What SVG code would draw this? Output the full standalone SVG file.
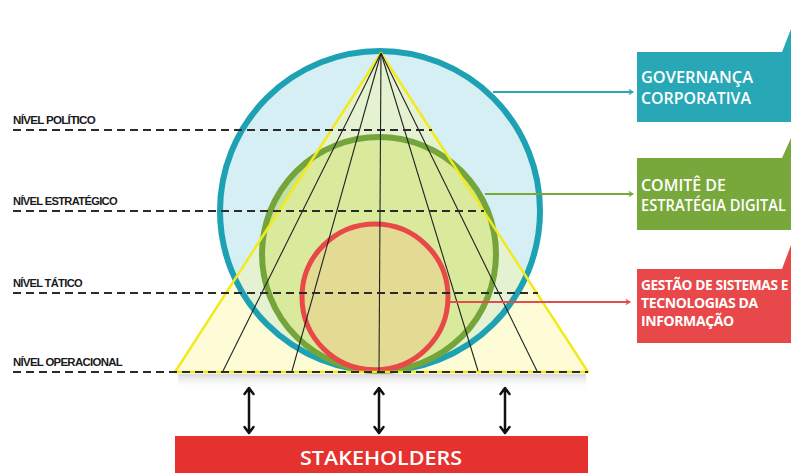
<svg xmlns="http://www.w3.org/2000/svg" width="791" height="473" viewBox="0 0 791 473">
<defs>
<style>
.lvl{font-family:"Liberation Sans",Arial,sans-serif;font-weight:bold;font-size:10px;fill:#1a1a1a;letter-spacing:-0.6px}
.dash{stroke:#2b2b2b;stroke-width:2;stroke-dasharray:8 5;fill:none}
.fan{stroke:#222;stroke-width:1.1;fill:none}
.bt{font-family:"Open Sans","Liberation Sans",sans-serif;font-weight:600;fill:#fff}
.rt{font-family:"Open Sans","Liberation Sans",sans-serif;font-weight:700;fill:#fff;font-size:14px;letter-spacing:-0.4px}
.dbl{stroke:#111;stroke-width:2.5;fill:none;stroke-linecap:round;stroke-linejoin:round}
</style>
<marker id="ah" viewBox="0 0 10 10" refX="8" refY="5" markerWidth="6" markerHeight="6" orient="auto" markerUnits="userSpaceOnUse">
<path d="M1,1 L8,5 L1,9" fill="none" stroke="context-stroke" stroke-width="2"/>
</marker>
<linearGradient id="sh" x1="0" y1="0" x2="0" y2="1">
<stop offset="0" stop-color="#cfcfcf" stop-opacity="0.8"/>
<stop offset="1" stop-color="#ffffff" stop-opacity="0"/>
</linearGradient>
</defs>
<rect width="791" height="473" fill="#ffffff"/>
<rect x="178" y="374" width="408" height="16" fill="url(#sh)"/>

<g id="diagram">
<g id="circle-governanca">
<circle cx="380" cy="211" r="160" fill="#d6eff5"/>
</g>
<g id="circle-comite">
<circle cx="379" cy="254" r="117" fill="#c3e19f"/>
</g>
<g id="circle-gestao">
<circle cx="375" cy="297" r="73" fill="#d4c98e"/>
</g>
<polygon id="triangle-fill" points="381,53 175,372 588,372" fill="#fbf79a" fill-opacity="0.4"/>
<circle cx="380" cy="211" r="160" fill="none" stroke="#1da2b4" stroke-width="6"/>
<circle cx="379" cy="254" r="117" fill="none" stroke="#74a43a" stroke-width="6"/>
<circle cx="375" cy="297" r="73" fill="none" stroke="#e84848" stroke-width="5"/>
<polygon id="triangle" points="381,53 175,372 588,372" fill="none" stroke="#f2ea1e" stroke-width="2.5" stroke-linejoin="round"/>
<g id="fan">
<line class="fan" x1="381" y1="53" x2="223" y2="371"/>
<line class="fan" x1="381" y1="53" x2="292" y2="371"/>
<line class="fan" x1="381" y1="53" x2="379" y2="371"/>
<line class="fan" x1="381" y1="53" x2="478" y2="371"/>
<line class="fan" x1="381" y1="53" x2="537" y2="371"/>
</g>
</g>

<g id="levels">
<text class="lvl" x="13" y="124" textLength="82" lengthAdjust="spacingAndGlyphs">NÍVEL POLÍTICO</text>
<line class="dash" x1="13" y1="130" x2="432" y2="130"/>
<text class="lvl" x="13" y="205" textLength="104" lengthAdjust="spacingAndGlyphs">NÍVEL ESTRATÉGICO</text>
<line class="dash" x1="13" y1="211" x2="484" y2="211"/>
<text class="lvl" x="13" y="287" textLength="69" lengthAdjust="spacingAndGlyphs">NÍVEL TÁTICO</text>
<line class="dash" x1="13" y1="293" x2="538" y2="293"/>
<text class="lvl" x="13" y="366" textLength="109" lengthAdjust="spacingAndGlyphs">NÍVEL OPERACIONAL</text>
<line class="dash" x1="13" y1="372" x2="588" y2="372"/>
</g>

<g id="connectors">
<line x1="493" y1="92" x2="633" y2="92" stroke="#2aa7b5" stroke-width="1.8" marker-end="url(#ah)"/>
<line x1="485" y1="194" x2="633" y2="194" stroke="#78a83c" stroke-width="1.8" marker-end="url(#ah)"/>
<line x1="448" y1="302" x2="630" y2="302" stroke="#e44c4c" stroke-width="1.8" marker-end="url(#ah)"/>
<path class="dbl" d="M249,389 V432 M244.5,394 L249,388 L253.5,394 M244.5,427 L249,433 L253.5,427"/>
<path class="dbl" d="M379,389 V432 M374.5,394 L379,388 L383.5,394 M374.5,427 L379,433 L383.5,427"/>
<path class="dbl" d="M505,389 V432 M500.5,394 L505,388 L509.5,394 M500.5,427 L505,433 L509.5,427"/>
</g>

<g id="box-governanca">
<path d="M637,52 L782,52 L791,29 L791,122 L637,122 Z" fill="#28a8b6"/>
<text class="bt" x="641" y="83" font-size="16" textLength="112" lengthAdjust="spacingAndGlyphs">GOVERNANÇA</text>
<text class="bt" x="641" y="104" font-size="16" textLength="110" lengthAdjust="spacingAndGlyphs">CORPORATIVA</text>
</g>
<g id="box-comite">
<path d="M637,158 L782,158 L791,138 L791,230 L637,230 Z" fill="#78a83b"/>
<text class="bt" x="641" y="191" font-size="15.5" textLength="85" lengthAdjust="spacingAndGlyphs">COMITÊ DE</text>
<text class="bt" x="641" y="211" font-size="15.5" textLength="145" lengthAdjust="spacingAndGlyphs">ESTRATÉGIA DIGITAL</text>
</g>
<g id="box-gestao">
<path d="M637,269 L782,269 L791,245 L791,343 L637,343 Z" fill="#e84849"/>
<text class="rt" x="641" y="290" textLength="147" lengthAdjust="spacingAndGlyphs">GESTÃO DE SISTEMAS E</text>
<text class="rt" x="641" y="308">TECNOLOGIAS DA</text>
<text class="rt" x="641" y="326">INFORMAÇÃO</text>
</g>
<g id="box-stakeholders">
<rect x="175" y="436" width="413" height="37" fill="#e5322e"/>
<text class="bt" x="381" y="465" font-size="20" text-anchor="middle" textLength="162" lengthAdjust="spacingAndGlyphs">STAKEHOLDERS</text>
</g>
</svg>
